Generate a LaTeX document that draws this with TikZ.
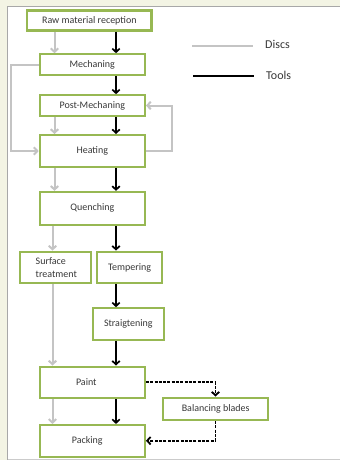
\documentclass[tikz,border=0pt]{standalone}
\usepackage{fontspec}
\setmainfont{Carlito}
\usetikzlibrary{arrows.meta}
\definecolor{cream}{HTML}{F3F4E4}
\definecolor{boxgreen}{HTML}{97B853}
\definecolor{discgray}{HTML}{C4C4C4}
\definecolor{paneledge}{HTML}{A8A8A8}
\begin{document}
\begin{tikzpicture}[x=1pt,y=-1pt,
  box/.style={draw=boxgreen, line width=2.2pt, fill=white, inner sep=0pt,
    font=\fontsize{10}{12}\selectfont, text=black!78},
  disc/.style={draw=discgray, line width=2pt, -{Straight Barb[length=3.5pt,width=7.5pt]}},
  tool/.style={draw=black, line width=1.7pt, -{Straight Barb[length=3.5pt,width=7.5pt]}},
  dtool/.style={tool, line width=1.8pt, dash pattern=on 3pt off 1.3pt},
  legtext/.style={anchor=west, inner sep=0pt, font=\fontsize{12}{14}\selectfont, text=black!78}]
\useasboundingbox (0,0) rectangle (340,460);
\fill[cream] (0,0) rectangle (340,460);
\fill[white] (7.5,6.5) rectangle (340,459);
\draw[paneledge, line width=1pt] (7.5,460) -- (7.5,6.5) -- (340,6.5);
\draw[paneledge!60, line width=0.8pt] (7.5,459) -- (340,459);

% boxes
\node[box, minimum width=124.5pt, minimum height=20pt] (raw) at (89.3,20.5) {Raw material reception};
\node[box, minimum width=105pt, minimum height=20.4pt] (mech) at (92.3,64.5) {Mechaning};
\node[box, minimum width=105pt, minimum height=20.4pt] (post) at (92.3,105.5) {Post-Mechaning};
\node[box, minimum width=105pt, minimum height=31.7pt] (heat) at (92.3,151) {Heating};
\node[box, minimum width=105pt, minimum height=32.7pt] (quench) at (92.3,208.3) {Quenching};
\node[box, minimum width=70.7pt, minimum height=31.6pt] (surf) at (55.3,267.5) {};
\node[anchor=west, inner sep=0pt, align=left, font=\fontsize{10}{12.5}\selectfont, text=black!78] (surftext) at (35.5,267.5) {Surface\\treatment};
\node[box, minimum width=65.3pt, minimum height=31.6pt] (temper) at (129.7,267.5) {Tempering};
\node[box, minimum width=70.7pt, minimum height=31.4pt] (straight) at (128.3,324) {Straigtening};
\node[box, minimum width=105pt, minimum height=31.3pt] (paint) at (92.3,382.3) {\hspace*{-12pt}Paint};
\node[box, minimum width=104.7pt, minimum height=22.3pt] (balance) at (215.7,408.8) {Balancing blades};
\node[box, minimum width=105pt, minimum height=32.3pt] (pack) at (92.3,441.2) {\hspace*{-10pt}Packing};

% x positions of flow lines
\coordinate (tx) at (116,0);
\coordinate (gx) at (54.5,0);
\coordinate (gy) at (52.5,0);
\coordinate (lx) at (10.5,0);
\coordinate (rx) at (171.7,0);
\coordinate (bx) at (215.5,0);
\coordinate (by) at (0,440.7);

% tools (black)
\draw[tool] (raw.south -| tx) -- (mech.north -| tx);
\draw[tool] (mech.south -| tx) -- (post.north -| tx);
\draw[tool] (post.south -| tx) -- (heat.north -| tx);
\draw[tool] (heat.south -| tx) -- (quench.north -| tx);
\draw[tool] (quench.south -| tx) -- (temper.north -| tx);
\draw[tool] (temper.south -| tx) -- (straight.north -| tx);
\draw[tool] (straight.south -| tx) -- (paint.north -| tx);
\draw[tool] (paint.south -| tx) -- (pack.north -| tx);
\draw[dtool] (paint.east) -- (paint.east -| bx) -- (balance.north -| bx);
\draw[dtool] (balance.south -| bx) -- (bx |- by) -- (pack.east |- by);

% discs (gray)
\draw[disc] (raw.south -| gx) -- (mech.north -| gx);
\draw[disc] (post.south -| gx) -- (heat.north -| gx);
\draw[disc] (heat.south -| gx) -- (quench.north -| gx);
\draw[disc] (quench.south -| gy) -- (surf.north -| gy);
\draw[disc] (surf.south -| gy) -- (paint.north -| gy);
\draw[disc] (paint.south -| gy) -- (pack.north -| gy);
\draw[disc] (mech.west) -- (mech.west -| lx) -- (heat.west -| lx) -- (heat.west);
\draw[disc] (heat.east) -- (heat.east -| rx) -- (post.east -| rx) -- (post.east);

% legend
\coordinate (l1a) at (192,46);
\coordinate (l1b) at (253,46);
\coordinate (l2a) at (193,76);
\coordinate (l2b) at (254,76);
\draw[discgray, line width=2pt] (l1a) -- (l1b);
\draw[black, line width=1.8pt] (l2a) -- (l2b);
\node[legtext] (discs) at (265,44.5) {Discs};
\node[legtext] (tools) at (266,75) {Tools};
\end{tikzpicture}
\end{document}
